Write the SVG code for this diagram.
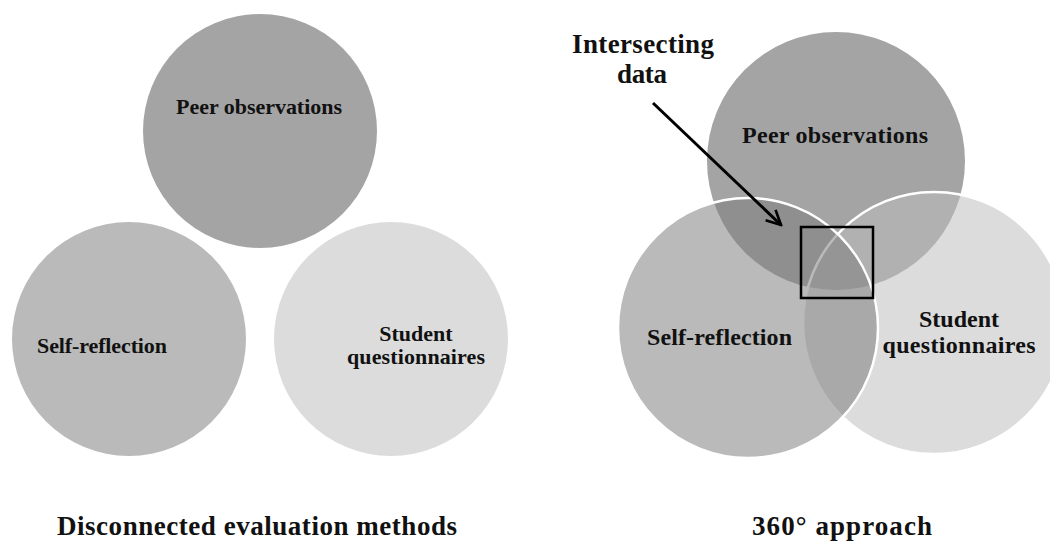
<svg xmlns="http://www.w3.org/2000/svg" width="1050" height="543" viewBox="0 0 1050 543">
<defs>
<style>
text{font-family:"Liberation Serif","Times New Roman",serif;font-weight:bold;fill:#111;}
.lbl{font-size:22px;}
.lbl2{font-size:24px;}
.title{font-size:27px;}
.venn{stroke:#fff;stroke-width:2.5;}
</style>
<marker id="arr" viewBox="0 0 10 10" refX="9" refY="5" markerWidth="6" markerHeight="6" orient="auto" markerUnits="strokeWidth">
<path d="M1,1 L9,5 L1,9" fill="none" stroke="#000" stroke-width="1.5" stroke-linejoin="miter"/>
</marker>
</defs>
<rect width="1050" height="543" fill="#fff"/>

<g id="left-peer">
<circle cx="260" cy="131" r="117" fill="#a4a4a4"/>
<text class="lbl" x="259" y="114" text-anchor="middle" textLength="166">Peer observations</text>
</g>
<g id="left-self">
<circle cx="129" cy="339" r="117" fill="#bababa"/>
<text class="lbl" x="37" y="353" textLength="130">Self-reflection</text>
</g>
<g id="left-student">
<circle cx="391" cy="339" r="117" fill="#dcdcdc"/>
<text class="lbl" x="416" y="341" text-anchor="middle">Student</text>
<text class="lbl" x="416" y="364" text-anchor="middle" textLength="138">questionnaires</text>
</g>
<g id="left-title">
<text class="title" x="57" y="535" textLength="400">Disconnected  evaluation methods</text>
</g>

<g id="right-peer">
<circle cx="836" cy="161" r="129" fill="#a4a4a4"/>
</g>
<g id="right-student">
<circle class="venn" cx="934" cy="323" r="131" fill="rgb(189,189,189)" fill-opacity="0.53"/>
</g>
<g id="right-self">
<circle class="venn" cx="748" cy="328" r="130" fill="rgb(125,125,125)" fill-opacity="0.53"/>
</g>
<g id="right-labels">
<text class="lbl2" x="835" y="143" text-anchor="middle" textLength="186">Peer observations</text>
<text class="lbl2" x="647" y="345" textLength="145">Self-reflection</text>
<text class="lbl2" x="959" y="327" text-anchor="middle">Student</text>
<text class="lbl2" x="959" y="353" text-anchor="middle" textLength="153">questionnaires</text>
</g>
<g id="intersect-box">
<rect x="801" y="227" width="72" height="71" fill="none" stroke="#000" stroke-width="2.5"/>
</g>
<g id="intersect-label">
<text class="title" x="643" y="53" text-anchor="middle" textLength="142">Intersecting</text>
<text class="title" x="642" y="83" text-anchor="middle" textLength="50">data</text>
</g>
<g id="right-title">
<text class="title" x="752" y="535" textLength="180">360° approach</text>
</g>

<g id="connectors">
<line x1="653" y1="103" x2="781" y2="225" stroke="#000" stroke-width="3" marker-end="url(#arr)"/>
</g>
</svg>
